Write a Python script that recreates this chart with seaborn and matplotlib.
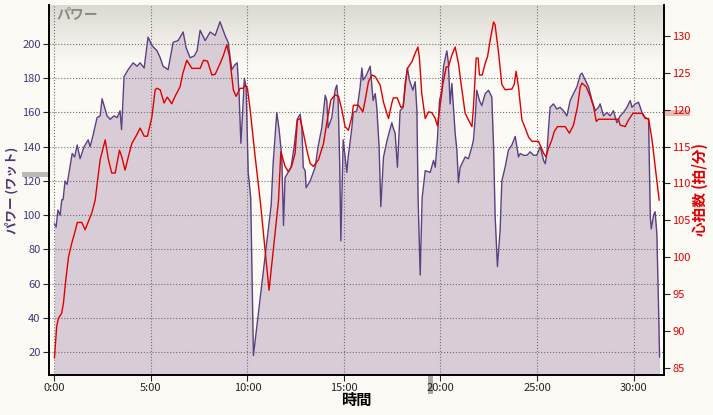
import numpy as np
import seaborn as sns
import matplotlib.pyplot as plt
from matplotlib.patches import Rectangle
from matplotlib.colors import LinearSegmentedColormap
from matplotlib.transforms import blended_transform_factory


# -----------------------------
# DATA (time in minutes)
# -----------------------------
power_min = [0.00, 0.09, 0.18, 0.30, 0.38, 0.45, 0.55, 0.66, 0.92, 1.05,
             1.18, 1.33, 1.54, 1.75, 1.85, 2.01, 2.21, 2.37, 2.47, 2.73,
             2.89, 3.09, 3.25, 3.40, 3.48, 3.61, 3.82, 4.08, 4.28, 4.44,
             4.65, 4.85, 5.06, 5.32, 5.48, 5.63, 5.89, 6.15, 6.41, 6.67,
             6.82, 7.03, 7.24, 7.39, 7.55, 7.81, 8.07, 8.33, 8.58, 8.84,
             9.00, 9.19, 9.36, 9.47, 9.57, 9.66, 9.75, 9.84, 9.93, 10.04,
             10.17, 10.31, 11.23, 11.33, 11.52, 11.64, 11.78, 11.87, 11.95, 12.11,
             12.26, 12.42, 12.58, 12.73, 12.82, 12.89, 12.99, 13.04, 13.25, 13.51,
             13.66, 13.85, 14.03, 14.11, 14.18, 14.37, 14.54, 14.63, 14.70, 14.78,
             14.84, 14.96, 15.15, 15.22, 15.41, 15.48, 15.67, 15.84, 15.93, 15.99,
             16.13, 16.36, 16.45, 16.51, 16.62, 16.70, 16.82, 16.91, 17.05, 17.24,
             17.48, 17.55, 17.65, 17.77, 17.91, 18.07, 18.17, 18.29, 18.39, 18.57,
             18.69, 18.78, 18.84, 18.95, 19.05, 19.21, 19.47, 19.64, 19.73, 19.84,
             19.95, 20.07, 20.16, 20.33, 20.41, 20.50, 20.59, 20.67, 20.76, 20.85,
             20.93, 21.02, 21.11, 21.28, 21.45, 21.63, 21.71, 21.80, 21.88, 22.02,
             22.14, 22.32, 22.49, 22.66, 22.75, 22.83, 22.95, 23.09, 23.18, 23.35,
             23.52, 23.70, 23.87, 23.96, 24.04, 24.13, 24.30, 24.48, 24.65, 24.82,
             24.99, 25.17, 25.34, 25.43, 25.51, 25.60, 25.68, 25.85, 26.03, 26.20,
             26.37, 26.55, 26.72, 26.89, 27.07, 27.24, 27.33, 27.50, 27.67, 27.85,
             28.02, 28.19, 28.27, 28.45, 28.62, 28.79, 28.96, 29.14, 29.31, 29.48,
             29.66, 29.83, 29.92, 30.09, 30.26, 30.44, 30.61, 30.78, 30.87, 30.92,
             31.04, 31.12, 31.21, 31.29, 31.35]

power_w = [95, 93, 103, 100, 109, 109, 120, 118, 136, 134,
           141, 133, 140, 144, 140, 147, 157, 158, 168, 158,
           156, 158, 157, 161, 150, 181, 185, 189, 187, 189,
           186, 204, 199, 196, 192, 187, 185, 201, 202, 207,
           198, 192, 193, 196, 208, 202, 207, 205, 213, 205,
           201, 185, 188, 189, 170, 142, 160, 180, 175, 125,
           110, 18, 106, 130, 160, 150, 134, 94, 122, 125,
           128, 140, 156, 159, 151, 128, 126, 116, 120, 128,
           140, 151, 170, 167, 151, 157, 173, 176, 167, 130,
           85, 144, 125, 134, 151, 160, 161, 175, 186, 179,
           181, 187, 175, 167, 171, 163, 140, 105, 134, 144,
           154, 151, 148, 128, 161, 163, 177, 186, 179, 173,
           178, 161, 110, 65, 110, 126, 125, 132, 128, 144,
           167, 173, 187, 196, 189, 165, 177, 163, 148, 138,
           119, 128, 130, 134, 133, 140, 144, 157, 173, 167,
           164, 171, 173, 169, 140, 100, 70, 91, 120, 128,
           138, 141, 146, 140, 134, 136, 135, 135, 137, 135,
           135, 140, 132, 130, 136, 151, 163, 165, 162, 163,
           161, 158, 167, 171, 175, 182, 183, 179, 175, 167,
           161, 163, 165, 158, 160, 158, 161, 154, 158, 160,
           163, 167, 163, 165, 166, 160, 157, 156, 99, 92,
           100, 102, 89, 50, 17]

hr_min = [0.00, 0.12, 0.21, 0.38, 0.47, 0.59, 0.73, 0.90, 1.02, 1.19,
          1.42, 1.59, 1.76, 1.94, 2.11, 2.37, 2.63, 2.80, 2.97, 3.15,
          3.37, 3.49, 3.66, 3.83, 4.01, 4.27, 4.44, 4.65, 4.82, 5.05,
          5.22, 5.31, 5.48, 5.68, 5.85, 6.08, 6.25, 6.51, 6.65, 6.86,
          7.12, 7.55, 7.72, 7.93, 8.16, 8.33, 8.59, 8.76, 8.93, 9.07,
          9.19, 9.27, 9.41, 9.62, 9.78, 9.88, 10.00, 10.14, 10.40, 10.66,
          11.12, 11.61, 11.73, 11.95, 12.12, 12.29, 12.47, 12.59, 12.73, 12.90,
          13.08, 13.25, 13.42, 13.68, 13.94, 14.11, 14.32, 14.54, 14.72, 14.89,
          15.06, 15.23, 15.41, 15.49, 15.75, 15.98, 16.10, 16.27, 16.45, 16.62,
          16.88, 17.05, 17.22, 17.31, 17.48, 17.56, 17.76, 17.95, 18.07, 18.21,
          18.29, 18.52, 18.65, 18.83, 18.91, 19.03, 19.21, 19.38, 19.55, 19.73,
          19.84, 20.02, 20.12, 20.30, 20.41, 20.59, 20.76, 20.93, 21.11, 21.28,
          21.45, 21.63, 21.71, 21.85, 21.95, 22.02, 22.16, 22.32, 22.44, 22.58,
          22.75, 22.83, 23.01, 23.18, 23.35, 23.70, 23.82, 23.92, 24.04, 24.22,
          24.39, 24.56, 24.74, 25.08, 25.34, 25.46, 25.60, 25.77, 25.89, 26.06,
          26.46, 26.68, 26.89, 27.10, 27.24, 27.33, 27.55, 27.76, 27.93, 28.07,
          28.19, 29.22, 29.31, 29.57, 29.74, 29.97, 30.44, 30.61, 30.78, 30.96,
          31.12, 31.33]

hr_bpm = [86.3, 90.6, 91.7, 92.4, 93.8, 96.9, 100, 101.9, 103, 104.7,
          104.7, 103.7, 104.8, 106, 107.7, 113.2, 115.9, 113.2, 111.4, 111.4,
          114.5, 113.6, 111.8, 113.6, 115.4, 116.6, 117.5, 116.4, 116.4, 119,
          122.7, 122.9, 122.7, 120.9, 121.7, 120.8, 121.8, 123.1, 124.9, 126.7,
          125.6, 125.6, 126.7, 126.6, 124.7, 124.8, 126.3, 127.4, 128.8, 127.2,
          124.5, 122.7, 121.8, 122.9, 122.9, 123.4, 122.9, 120, 113.6, 107.7,
          95.5, 107.7, 114.3, 112.3, 111.6, 112.3, 114.1, 118.6, 118.8, 116.8,
          114.5, 112.7, 112.3, 113.2, 115.4, 118.2, 121.3, 122, 121.8, 120,
          117.7, 117.2, 119, 120.6, 120.6, 119.7, 121.3, 123.8, 124.7, 124.5,
          123.3, 121, 119.5, 118.8, 120.9, 121.6, 121.6, 120.3, 120.5, 124,
          125.6, 126.5, 127.4, 128.5, 127, 122.2, 118.8, 119.7, 119.6, 118.8,
          117.8, 121.3, 123.4, 125.8, 125.8, 127.4, 128.5, 126.3, 122.7, 119.5,
          118.6, 117.7, 120.4, 127, 127, 124.7, 124.7, 126.3, 127.2, 129.5,
          131.9, 131.5, 127.7, 123.4, 122.7, 122.8, 123.4, 125.2, 123.1, 118.6,
          117.5, 116.3, 115.7, 115.7, 114.1, 113.6, 114.8, 115.9, 117, 117.7,
          117.7, 116.8, 117.9, 120.4, 123.1, 123.6, 123.1, 121.8, 120.4, 118.4,
          118.7, 118.7, 117.9, 117.7, 118.6, 119.5, 119.5, 118.8, 118.8, 115.9,
          112.3, 107.7]

avg_power = 124
avg_hr = 119.6
marker_min = 19.47

x_ticks = [0, 5, 10, 15, 20, 25, 30]
x_labels = [f"{m}:00" for m in x_ticks]
power_ticks = list(range(20, 201, 20))
hr_ticks = list(range(85, 131, 5))

# -----------------------------
# STYLE
# -----------------------------
BG = "#FCFAF5"
FILL = "#D8CDD6"
PURPLE = "#5C4080"
PURPLE_TXT = "#4E3472"
RED = "#E00000"

sns.set_theme(style="white")
plt.rcParams['font.family'] = ['Noto Sans CJK JP', 'DejaVu Sans']

fig = plt.figure(figsize=(7.13, 4.15), dpi=100, facecolor=BG)
ax = fig.add_axes([49 / 713, 40 / 415, 615 / 713, 370 / 415])
ax.set_facecolor(BG)

# grey gradient at top of plot area
grad = np.linspace(0, 1, 100).reshape(-1, 1)
cmap = LinearSegmentedColormap.from_list("top", [BG, "#DCD8D2"])
ax.imshow(grad, cmap=cmap, extent=[0, 1, 0.84, 1], transform=ax.transAxes,
          aspect="auto", origin="lower", zorder=0)

# power area + line
ax.fill_between(power_min, power_w, 0, color=FILL, lw=0, zorder=1)
sns.lineplot(x=power_min, y=power_w, ax=ax, color=PURPLE, lw=1,
             sort=False, estimator=None)

# heart rate on twin axis
ax2 = ax.twinx()
sns.lineplot(x=hr_min, y=hr_bpm, ax=ax2, color=RED, lw=1,
             sort=False, estimator=None)

ax.set_xlim(-0.28, 31.58)
ax.set_ylim(6.6, 222.8)
ax2.set_ylim(84.0, 134.2)

ax.set_xticks(x_ticks)
ax.set_xticklabels(x_labels)
ax.set_yticks(power_ticks)
ax2.set_yticks(hr_ticks)

ax.grid(True, linestyle=":", color="#707070", lw=0.8)
ax.set_axisbelow("line")
ax2.grid(False)

ax.tick_params(axis="both", direction="out", length=4, width=0.8,
               labelsize=8, left=True, bottom=True, pad=2)
ax.tick_params(axis="y", labelcolor=PURPLE_TXT)
ax2.tick_params(axis="y", direction="out", length=4, width=0.8,
                labelsize=8, right=True, labelcolor=RED, pad=2)

for a in (ax, ax2):
    a.spines["top"].set_visible(False)
    for s in ("left", "bottom", "right"):
        a.spines[s].set_color("black")
        a.spines[s].set_linewidth(1.2)

ax.set_ylabel("パワー (ワット)", color=PURPLE_TXT, fontsize=9, fontweight="bold")
ax.yaxis.set_label_coords(-0.049, 0.5)
ax2.set_ylabel("心拍数 (拍/分)", color=RED, fontsize=10.5, fontweight="bold",
               rotation=90)
ax2.yaxis.set_label_coords(1.045, 0.5)
ax.set_xlabel("時間", fontsize=11, fontweight="bold", color="black")
ax.xaxis.set_label_coords(0.5, -0.046)

ax.text(0.012, 0.995, "パワー", transform=ax.transAxes, ha="left", va="top",
        fontsize=10, fontweight="bold", color="#8E8A85")

# average / position markers on the axes
tr_left = blended_transform_factory(ax.transAxes, ax.transData)
ax.add_patch(Rectangle((-0.044, avg_power - 1.45), 0.044, 2.9,
                       transform=tr_left, clip_on=False, color="#BDB7B7", lw=0))
tr_right = blended_transform_factory(ax2.transAxes, ax2.transData)
ax2.add_patch(Rectangle((1.0, avg_hr - 0.4), 0.043, 0.8, transform=tr_right,
                        clip_on=False, color="#EDB9B5", lw=0, zorder=0))
tr_bottom = blended_transform_factory(ax.transData, ax.transAxes)
ax.add_patch(Rectangle((marker_min - 0.13, -0.05), 0.26, 0.047,
                       transform=tr_bottom, clip_on=False, color="#A9A9A9", lw=0))

fig.savefig("out.png", dpi=100, facecolor=BG)
